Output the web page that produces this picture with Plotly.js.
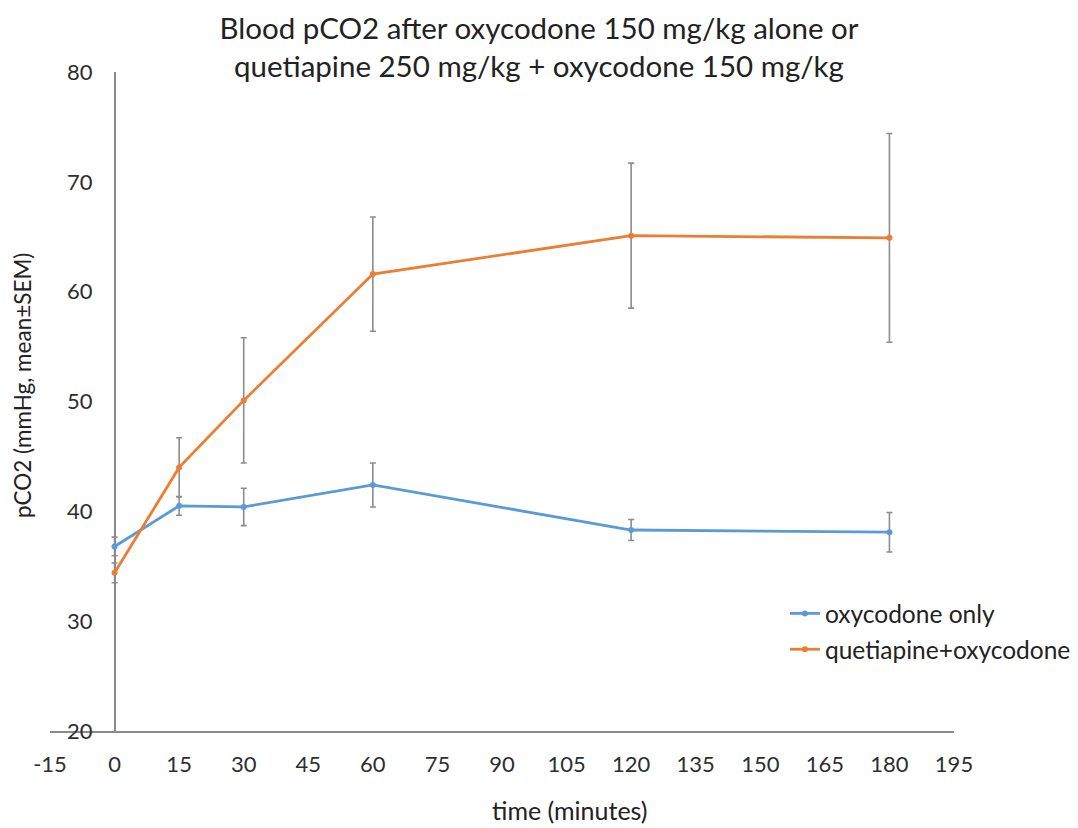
<!DOCTYPE html>
<html>
<head>
<meta charset="utf-8">
<script src="https://cdn.plot.ly/plotly-3.0.1.min.js"></script>
<style>
  html, body { margin: 0; padding: 0; background: #ffffff; }
  #chart { width: 1078px; height: 828px; }
</style>
</head>
<body>
<div id="chart"></div>
<script>
// Sampling times (minutes after dosing)
const timeMinutes = [0, 15, 30, 60, 120, 180];

// Oxycodone 150 mg/kg alone: mean pCO2 and SEM
const oxycodoneMean = [36.8, 40.5, 40.4, 42.4, 38.3, 38.1];
const oxycodoneSem  = [0.85, 0.85, 1.7, 2.0, 0.95, 1.8];

// Quetiapine 250 mg/kg + oxycodone 150 mg/kg: mean pCO2 and SEM
const comboMean = [34.4, 44.0, 50.1, 61.6, 65.1, 64.9];
const comboSem  = [0.9, 2.7, 5.7, 5.2, 6.6, 9.5];

const seriesNames = ['oxycodone only', 'quetiapine+oxycodone'];
const xTickValues = [-15, 0, 15, 30, 45, 60, 75, 90, 105, 120, 135, 150, 165, 180, 195];
const yTickValues = [20, 30, 40, 50, 60, 70, 80];

const FONT = 'Lato, "Open Sans", "DejaVu Sans", sans-serif';
const TEXT = '#2e2e2e';
const AXIS_GREY = '#8a8a8a';

function errorBars(values) {
  return {
    type: 'data', array: values, visible: true,
    color: '#8c8c8c', thickness: 1.6, width: 3
  };
}

const traces = [
  {
    x: timeMinutes, y: oxycodoneMean, name: seriesNames[0],
    type: 'scatter', mode: 'lines+markers',
    line: { color: '#5B9BD5', width: 2.8 },
    marker: { color: '#5B9BD5', size: 6 },
    error_y: errorBars(oxycodoneSem),
    legendgroup: 'a'
  },
  {
    x: timeMinutes, y: comboMean, name: seriesNames[1],
    type: 'scatter', mode: 'lines+markers',
    line: { color: '#ED7D31', width: 2.8 },
    marker: { color: '#ED7D31', size: 6 },
    error_y: errorBars(comboSem),
    legendgroup: 'b'
  }
];

const layout = {
  width: 1078, height: 828,
  paper_bgcolor: '#ffffff', plot_bgcolor: '#ffffff',
  margin: { l: 50, r: 124, t: 72, b: 97, pad: 0, autoexpand: false },
  font: { family: FONT, color: TEXT, size: 22 },
  title: {
    text: 'Blood pCO2 after oxycodone 150 mg/kg alone or<br>quetiapine 250 mg/kg + oxycodone 150 mg/kg',
    font: { family: FONT, size: 29.5, color: '#222222' },
    x: 0.5, xref: 'container', xanchor: 'center',
    y: 0.953, yref: 'container', yanchor: 'top'
  },
  xaxis: {
    range: [-15, 195],
    tickvals: xTickValues,
    ticktext: xTickValues.map(String),
    showgrid: false,
    showline: true, linecolor: AXIS_GREY, linewidth: 2,
    zeroline: true, zerolinecolor: AXIS_GREY, zerolinewidth: 2,
    ticks: '',
    ticklabelstandoff: 13,
    tickfont: { family: FONT, size: 22, color: TEXT },
    automargin: false,
    fixedrange: true
  },
  yaxis: {
    range: [20, 80],
    tickvals: yTickValues,
    ticktext: yTickValues.map(String),
    showgrid: false, showline: false, zeroline: false,
    ticks: '',
    anchor: 'free', position: 0.047,
    tickfont: { family: FONT, size: 22, color: TEXT },
    automargin: false,
    fixedrange: true
  },
  showlegend: true,
  legend: {
    x: 0.813, xanchor: 'left', xref: 'paper',
    y: 0.2125, yanchor: 'top', yref: 'paper',
    traceorder: 'grouped', tracegroupgap: 1,
    bgcolor: 'rgba(0,0,0,0)',
    font: { family: FONT, size: 24.5, color: '#222222' }
  },
  annotations: [
    {
      text: 'time (minutes)', xref: 'paper', yref: 'paper',
      x: 0.575, y: -0.120, xanchor: 'center', yanchor: 'middle',
      showarrow: false, font: { family: FONT, size: 25, color: '#222222' }
    },
    {
      text: 'pCO2 (mmHg, mean±SEM)', xref: 'paper', yref: 'paper',
      x: -0.031, y: 0.525, xanchor: 'center', yanchor: 'middle',
      textangle: -90,
      showarrow: false, font: { family: FONT, size: 22.5, color: '#222222' }
    }
  ]
};

Plotly.newPlot('chart', traces, layout, { displayModeBar: false, staticPlot: true });
</script>
</body>
</html>
